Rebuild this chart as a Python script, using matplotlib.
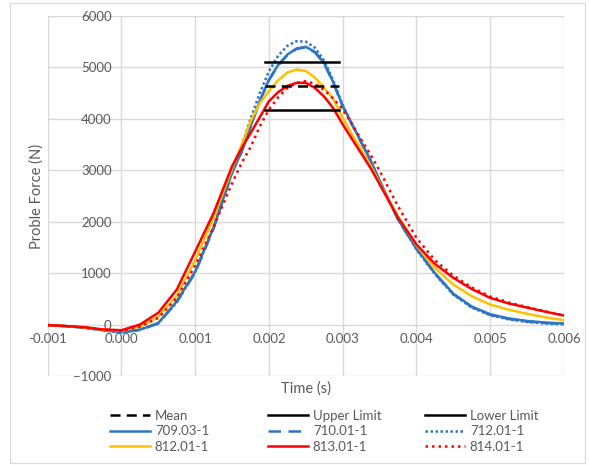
import matplotlib
matplotlib.use("Agg")
import matplotlib.pyplot as plt
from matplotlib.lines import Line2D
from matplotlib.patches import Rectangle

plt.rcParams['font.family'] = ['Lato', 'DejaVu Sans']

# time axis (s)
t = [-0.001, -0.00075, -0.0005, -0.00025, 0.0, 0.00025, 0.0005, 0.00075, 0.001, 0.00125,
     0.0015, 0.001625, 0.00175, 0.001875, 0.002, 0.002125, 0.00225, 0.002375, 0.0025,
     0.002625, 0.00275, 0.002875, 0.003, 0.003125, 0.00325, 0.003375, 0.0035,
     0.00375, 0.004, 0.00425, 0.0045, 0.00475, 0.005, 0.00525, 0.0055, 0.00575, 0.006]

s709 = [-10, -30, -60, -110, -150, -100, 30, 453, 1030, 1890,
        2960, 3350, 3850, 4350, 4766, 5050, 5250, 5370, 5400,
        5300, 5080, 4700, 4247, 3900, 3550, 3200, 2800,
        2050, 1480, 1000, 600, 350, 200, 120, 70, 40, 20]
s710 = [-10, -30, -60, -110, -150, -105, 20, 440, 1010, 1870,
        2950, 3340, 3840, 4340, 4750, 5040, 5240, 5360, 5390,
        5290, 5070, 4690, 4240, 3890, 3540, 3190, 2790,
        2040, 1470, 990, 590, 340, 190, 110, 60, 30, 15]
s712 = [-10, -30, -60, -110, -150, -100, 30, 430, 1030, 1900,
        3000, 3450, 4000, 4500, 4928, 5230, 5420, 5510, 5500,
        5380, 5130, 4730, 4270, 3900, 3550, 3200, 2800,
        2040, 1460, 980, 580, 330, 180, 100, 50, 20, 5]
s812 = [-10, -30, -55, -100, -120, -40, 150, 560, 1250, 2080,
        3030, 3480, 3950, 4300, 4540, 4750, 4900, 4960, 4930,
        4800, 4600, 4380, 4021, 3700, 3400, 3100, 2750,
        2100, 1540, 1100, 778, 550, 389, 290, 210, 140, 84]
s813 = [-10, -30, -52, -95, -110, 0, 230, 680, 1420, 2170,
        3080, 3420, 3720, 4030, 4344, 4520, 4640, 4700, 4700,
        4600, 4430, 4200, 3891, 3610, 3330, 3050, 2730,
        2080, 1556, 1180, 908, 690, 519, 410, 330, 250, 175]
s814 = [-10, -30, -55, -100, -120, -40, 130, 520, 1150, 1900,
        2750, 3130, 3450, 3850, 4183, 4420, 4600, 4700, 4733,
        4680, 4560, 4390, 4183, 3900, 3600, 3310, 2990,
        2300, 1686, 1250, 950, 720, 545, 430, 340, 255, 175]

limit_t = [0.00195, 0.00295]
mean_val = 4637
upper_val = 5110
lower_val = 4177

x_ticks = [-0.001, 0.000, 0.001, 0.002, 0.003, 0.004, 0.005, 0.006]
x_tick_labels = ["-0.001", "0.000", "0.001", "0.002", "0.003", "0.004", "0.005", "0.006"]
y_ticks = [-1000, 0, 1000, 2000, 3000, 4000, 5000, 6000]

BLUE = '#2E75C4'
YELLOW = '#FFC000'
RED = '#FF0000'
GRID = '#D9D9D9'
TXT = '#595959'

fig = plt.figure(figsize=(5.89, 4.65), dpi=100)
ax = fig.add_axes([47.7/589, 1-376/465, (564-47.7)/589, (376-16)/465])

fig.patches.append(Rectangle((10/589, 2/465), 575/589, 460/465, transform=fig.transFigure,
                             fill=False, edgecolor='#D9D9D9', linewidth=0.8))

lw = 1.8
ax.plot(t, s709, color=BLUE, lw=lw, label='709.03-1', zorder=3)
ax.plot(t, s710, color=BLUE, lw=lw, ls=(0, (5, 3)), label='710.01-1', zorder=3)
ax.plot(t, s712, color=BLUE, lw=lw, ls=(0, (1, 1)), label='712.01-1', zorder=3)
ax.plot(t, s812, color=YELLOW, lw=lw, label='812.01-1', zorder=3)
ax.plot(t, s813, color=RED, lw=lw, label='813.01-1', zorder=3)
ax.plot(t, s814, color=RED, lw=lw, ls=(0, (1, 1.6)), label='814.01-1', zorder=3)

ax.plot(limit_t, [mean_val]*2, color='black', lw=lw, ls=(0, (4, 2.5)), zorder=4)
ax.plot(limit_t, [upper_val]*2, color='black', lw=lw, zorder=4)
ax.plot(limit_t, [lower_val]*2, color='black', lw=lw, zorder=4)

ax.set_xlim(-0.001, 0.006)
ax.set_ylim(-1000, 6000)
ax.set_xticks(x_ticks)
ax.set_xticklabels(x_tick_labels)
ax.set_yticks(y_ticks)
ax.grid(True, color=GRID, lw=1.0, zorder=0)
ax.set_axisbelow(True)
for side in ['top', 'right']:
    ax.spines[side].set_visible(False)
ax.spines['left'].set_position(('data', 0))
ax.spines['bottom'].set_position(('data', 0))
ax.spines['left'].set_visible(False)
ax.spines['bottom'].set_visible(False)
ax.tick_params(axis='both', length=0, labelsize=9.5, labelcolor=TXT)
ax.tick_params(axis='x', pad=6)
ax.tick_params(axis='y', pad=7)
for lab in ax.get_yticklabels() + ax.get_xticklabels():
    lab.set_zorder(5)

fig.text(306/589, 1-389/465, 'Time (s)', ha='center', va='center', fontsize=10.5, color=TXT)
fig.text(37/589, 1-(16+376)/2/465, 'Proble Force (N)', ha='center', va='center',
         rotation=90, fontsize=10.5, color=TXT)

def h(color, ls='-'):
    return Line2D([], [], color=color, lw=lw, ls=ls)

cols = [
    ([h('black', (0, (4, 2.5))), h(BLUE), h(YELLOW)], ['Mean', '709.03-1', '812.01-1'], 110),
    ([h('black'), h(BLUE, (0, (5, 3))), h(RED)], ['Upper Limit', '710.01-1', '813.01-1'], 268),
    ([h('black'), h(BLUE, (0, (1, 1))), h(RED, (0, (1, 1.6)))], ['Lower Limit', '712.01-1', '814.01-1'], 425),
]
for handles, labels, xpx in cols:
    leg = fig.legend(handles, labels, loc='upper left', bbox_to_anchor=(xpx/589, 1-410/465),
                     frameon=False, fontsize=9.5, handlelength=3.0, handletextpad=0.4,
                     labelspacing=0.25, borderpad=0, borderaxespad=0)
    for tx in leg.get_texts():
        tx.set_color(TXT)

fig.savefig('out.png', dpi=100)
